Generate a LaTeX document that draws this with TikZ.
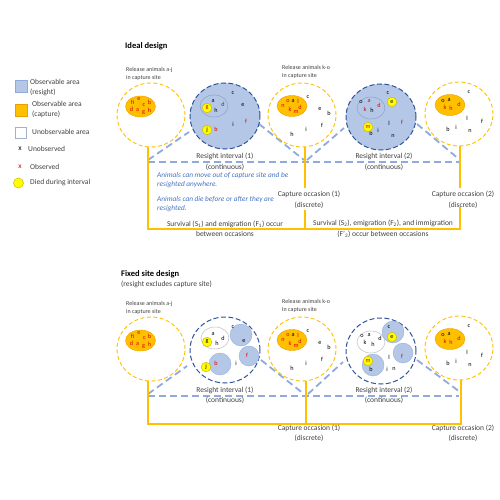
\documentclass[tikz,border=0pt]{standalone}
\usepackage{fontspec}
\setmainfont{Carlito}
\usetikzlibrary{shapes.geometric}
\definecolor{rsblue}{HTML}{B4C7E7}
\definecolor{rsedge}{HTML}{2F5597}
\definecolor{tlblue}{HTML}{8FAADC}
\definecolor{capfill}{HTML}{FFC000}
\definecolor{capedge}{HTML}{ED9E00}
\definecolor{siteyel}{HTML}{FFC000}
\definecolor{itblue}{HTML}{4472C4}
\definecolor{obsred}{HTML}{E00000}
\definecolor{txt}{HTML}{404040}
\definecolor{unedge}{HTML}{BFBFBF}
\definecolor{diedfill}{HTML}{FFFF00}
\definecolor{diededge}{HTML}{D6B600}
\newcommand\letset[2]{\foreach \px/\py/\ltr/\lcol [count=\nn] in {#2} {\node[lt,text=\lcol] (#1-\nn) at (\px,\py) {\ltr};}}
\begin{document}
\begin{tikzpicture}[x=1pt,y=-1pt,
  lt/.style={font=\fontsize{6.2}{7}\selectfont, inner sep=0pt},
  died/.style={circle, fill=diedfill, draw=diededge, line width=0.5pt, inner sep=0pt, minimum size=9.5pt, font=\fontsize{6.2}{7}\selectfont},
  capsite/.style={ellipse, draw=siteyel, fill=white, line width=0.9pt, dash pattern=on 4pt off 2.5pt, minimum width=68pt, minimum height=64pt, inner sep=0pt},
  resite/.style={ellipse, draw=rsedge, fill=rsblue, line width=1pt, dash pattern=on 5pt off 2.5pt, minimum width=70pt, minimum height=66pt, inner sep=0pt},
  fixsite/.style={resite, fill=white},
  capzone/.style={ellipse, fill=capfill, draw=capedge, line width=0.4pt, minimum width=30pt, minimum height=21pt, inner sep=0pt},
  unobs/.style={ellipse, draw=unedge, line width=0.5pt, minimum width=28pt, minimum height=22pt, inner sep=0pt},
  rspot/.style={circle, fill=rsblue, draw=tlblue, line width=0.3pt, inner sep=0pt},
  tly/.style={draw=siteyel, line width=1.8pt},
  tlb/.style={draw=tlblue, line width=1.8pt, dash pattern=on 7pt off 4pt},
  lab/.style={font=\fontsize{7.5}{10.5}\selectfont, text=txt, align=center, inner sep=0pt},
  small/.style={font=\fontsize{6}{8}\selectfont, text=txt, align=left, inner sep=0pt, anchor=west},
  leg/.style={font=\fontsize{7.5}{10}\selectfont, text=txt, align=left, inner sep=0pt, anchor=west},
  note/.style={font=\fontsize{7.3}{9}\selectfont\itshape, text=itblue, align=left, inner sep=0pt, anchor=west},
  ttl/.style={font=\fontsize{8.5}{10}\selectfont\bfseries, text=black, inner sep=0pt, anchor=west}]
\useasboundingbox (0,0) rectangle (500,500);

% ---------- titles ----------
\node[ttl] (t1) at (125,46) {Ideal design};
\node[ttl] (t2) at (121,274) {Fixed site design};
\node[leg] (t3) at (121,284) {(resight excludes capture site)};

% ---------- legend ----------
\node[draw=tlblue, fill=rsblue, minimum size=12pt, inner sep=0pt] (lg1) at (21,86) {};
\node[leg] (lg1t) at (30,87.5) {Observable area\\(resight)};
\node[draw=capedge, fill=capfill, minimum size=12pt, inner sep=0pt] (lg2) at (21,110) {};
\node[leg] (lg2t) at (32,109.5) {Observable area\\(capture)};
\node[draw=rsblue!70!gray, fill=white, minimum size=11pt, inner sep=0pt] (lg3) at (21,133) {};
\node[leg] (lg3t) at (32,132) {Unobservable area};
\node[leg, anchor=center, text=black] (lg4) at (20,149) {x};
\node[leg] (lg4t) at (28,149) {Unobserved};
\node[leg, anchor=center, text=obsred] (lg5) at (20,167) {x};
\node[leg] (lg5t) at (30,167) {Observed};
\node[died, minimum size=10pt] (lg6) at (18.5,183) {};
\node[leg] (lg6t) at (30,183) {Died during interval};

% ---------- ideal: blue resight lines ----------
\coordinate (bA) at (148,162); \coordinate (bC) at (460,162);
\coordinate (d1a) at (148,160); \coordinate (d1b) at (189,132);
\coordinate (d2a) at (259,124); \coordinate (d2b) at (304,160);
\coordinate (d3a) at (307,160); \coordinate (d3b) at (344,128);
\coordinate (d4a) at (417,124); \coordinate (d4b) at (460,160);
\draw[tlb] (bA) -- (bC);
\draw[tlb] (d1a) -- (d1b);
\draw[tlb] (d2a) -- (d2b);
\draw[tlb] (d3a) -- (d3b);
\draw[tlb] (d4a) -- (d4b);

% ---------- ideal: circles ----------
\node[capsite] (c1i) at (151,115) {};
\node[capzone] (z1i) at (140.5,106.5) {};
\node[resite] (c2i) at (225,116) {};
\node[unobs, draw=tlblue!80!gray] (u2i) at (214,106) {};
\node[capsite] (c3i) at (302,115) {};
\node[capzone] (z3i) at (292,106) {};
\node[resite] (c4i) at (381,117) {};
\node[unobs, draw=tlblue!80!gray] (u4i) at (371,108) {};
\node[capsite] (c5i) at (459,114) {};
\node[capzone] (z5i) at (450,105) {};

\letset{l1i}{132.5/102.5/fi/obsred, 139/99.5/e/obsred, 149.5/102.5/b/obsred, 144/105/c/obsred, 131.5/109/d/obsred, 137.5/110/a/obsred, 143.5/112.5/g/obsred, 149.5/110/h/obsred}
\letset{l2i}{213/101/a/black, 223/104/d/obsred, 216/110/h/black, 233/93/c/black, 243/105/e/black, 246/121/f/obsred, 233/124/i/black, 216/129/b/obsred}
\node[died, text=obsred] (g2i) at (207,108) {g};
\node[died] (j2i) at (207,130) {j};
\letset{l3i}{288/101/o/obsred, 293/101/a/black, 298/101/l/obsred, 283/106/n/obsred, 290/109/k/obsred, 300/107/d/obsred, 296/112/m/obsred, 308/97/c/black, 320/109/e/black, 329/113/b/black, 322/125/f/black, 306/129/i/black, 292/134/h/black}
\letset{l4i}{361/102/o/black, 369/101/a/obsred, 365/109/k/obsred, 372/110/h/black, 379/105/d/obsred, 388/93/c/black, 389/123/l/black, 402/122/f/obsred, 371/133/b/black, 378/130/i/black, 393/136/n/black}
\node[died] (e4i) at (392,102) {e};
\node[died, text=obsred] (m4i) at (368,127) {m};
\letset{l5i}{443/101/o/black, 449/100/a/black, 445/107/k/obsred, 451/108/h/obsred, 459/104/d/obsred, 469/92/c/black, 467/118/l/black, 482/121/f/black, 448/129/b/black, 456/127/i/black, 470/131/n/black}

% ---------- ideal: capture timeline ----------
\coordinate (yA) at (148,229); \coordinate (yB) at (305,229); \coordinate (yC) at (460,229);
\coordinate (yB1) at (305,188); \coordinate (yB2) at (305,210);
\coordinate (yC1) at (460,188); \coordinate (yC2) at (460,207);
\draw[tly] (c1i.south -| yA) -- (yA) -- (yC) -- (yC2);
\draw[tly] (c5i.south -| yC) -- (yC1);
\draw[tly] (c3i.south -| yB) -- (yB1);
\draw[tly] (yB2) -- (yB);

% ---------- ideal: texts ----------
\node[small] (r1i) at (126,73.5) {Release animals a-j\\in capture site};
\node[small] (r3i) at (282,72) {Release animals k-o\\In capture site};
\node[lab] (ri1) at (225,162) {Resight interval (1)\\(continuous)};
\node[lab] (ri2) at (384,162) {Resight interval (2)\\(continuous)};
\node[note] (n1) at (157,180) {Animals can move out of capture site and be\\resighted anywhere.};
\node[note] (n2) at (157,204.5) {Animals can die before or after they are\\resighted.};
\node[lab] (co1) at (309,200) {Capture occasion (1)\\(discrete)};
\node[lab] (co2) at (463,200) {Capture occasion (2)\\(discrete)};
\node[lab] (sv1) at (225,229) {Survival (S\textsubscript{1}) and emigration (F\textsubscript{1}) occur\\between occasions};
\node[lab] (sv2) at (383,229) {Survival (S\textsubscript{2}), emigration (F\textsubscript{2}), and immigration\\(F'\textsubscript{2}) occur between occasions};

% ---------- fixed: blue resight lines ----------
\coordinate (fbA) at (148,396); \coordinate (fbC) at (459,396);
\coordinate (f1a) at (148,394); \coordinate (f1b) at (187,366);
\coordinate (f2a) at (261,360); \coordinate (f2b) at (304,394);
\coordinate (f3a) at (308,394); \coordinate (f3b) at (343,362);
\coordinate (f4a) at (417,360); \coordinate (f4b) at (460,392);
\draw[tlb] (fbA) -- (fbC);
\draw[tlb] (f1a) -- (f1b);
\draw[tlb] (f2a) -- (f2b);
\draw[tlb] (f3a) -- (f3b);
\draw[tlb] (f4a) -- (f4b);

% ---------- fixed: circles ----------
\node[capsite] (c1f) at (151,349) {};
\node[capzone] (z1f) at (140.5,340.5) {};
\node[fixsite] (c2f) at (225,350) {};
\node[unobs] (u2f) at (215,338) {};
\node[rspot, minimum size=22pt] (s2a) at (241,335) {};
\node[rspot, minimum size=20pt] (s2b) at (249,356) {};
\node[rspot, minimum size=22pt] (s2c) at (220,364) {};
\node[capsite] (c3f) at (302,349) {};
\node[capzone] (z3f) at (292,340) {};
\node[fixsite] (c4f) at (381,351) {};
\node[unobs] (u4f) at (371,342) {};
\node[rspot, minimum size=22pt] (s4a) at (393,332) {};
\node[rspot, minimum size=20pt] (s4b) at (403,353) {};
\node[rspot, minimum size=22pt] (s4c) at (373,365) {};
\node[capsite] (c5f) at (459,348) {};
\node[capzone] (z5f) at (450,339) {};

\letset{l1f}{132.5/336.5/fi/obsred, 139/333.5/e/obsred, 149.5/336.5/b/obsred, 144.5/338.5/c/obsred, 131.5/343/d/obsred, 137.5/344/a/obsred, 143.5/347/g/obsred, 149.5/344/h/obsred}
\letset{l2f}{213/334/a/black, 223/338/d/black, 217/343/h/black, 233/327/c/black, 244/341/e/black, 247/355/f/obsred, 216/363/b/obsred, 236/363/i/black}
\node[died] (g2f) at (207,342) {g};
\node[died] (j2f) at (206,367) {j};
\letset{l3f}{288/335/o/obsred, 293/335/a/black, 298/335/l/obsred, 283/340/n/obsred, 290/343/k/obsred, 300/341/d/obsred, 296/346/m/obsred, 308/331/c/black, 320/343/e/black, 329/347/b/black, 322/359/f/black, 306/363/i/black, 292/368/h/black}
\letset{l4f}{362/336/o/black, 369/335/a/black, 365/342/k/black, 373/344/h/black, 380/338/d/black, 389/327/c/black, 402/356/f/obsred, 371/369/b/black, 389/357/l/black, 387/369/i/black, 394/369/n/black}
\node[died] (e4f) at (392,337) {e};
\node[died, text=obsred] (m4f) at (368,361) {m};
\letset{l5f}{443/335/o/black, 449/334/a/black, 445/341/k/obsred, 451/342/h/obsred, 459/338/d/obsred, 469/326/c/black, 467/352/l/black, 482/355/f/black, 448/363/b/black, 456/361/i/black, 470/365/n/black}

% ---------- fixed: capture timeline ----------
\coordinate (yD) at (148,424); \coordinate (yE) at (306,424); \coordinate (yF) at (461,424);
\draw[tly] (c1f.south -| yD) -- (yD) -- (yF) -- (c5f.south -| yF);
\draw[tly] (c3f.south -| yE) -- (yE);

% ---------- fixed: texts ----------
\node[small] (r1f) at (126,307.5) {Release animals a-j\\in capture site};
\node[small] (r3f) at (282,306) {Release animals k-o\\In capture site};
\node[lab] (ri1f) at (225,395.5) {Resight interval (1)\\(continuous)};
\node[lab] (ri2f) at (384,395.5) {Resight interval (2)\\(continuous)};
\node[lab] (co1f) at (309,433.5) {Capture occasion (1)\\(discrete)};
\node[lab] (co2f) at (463,433.5) {Capture occasion (2)\\(discrete)};
\end{tikzpicture}
\end{document}
